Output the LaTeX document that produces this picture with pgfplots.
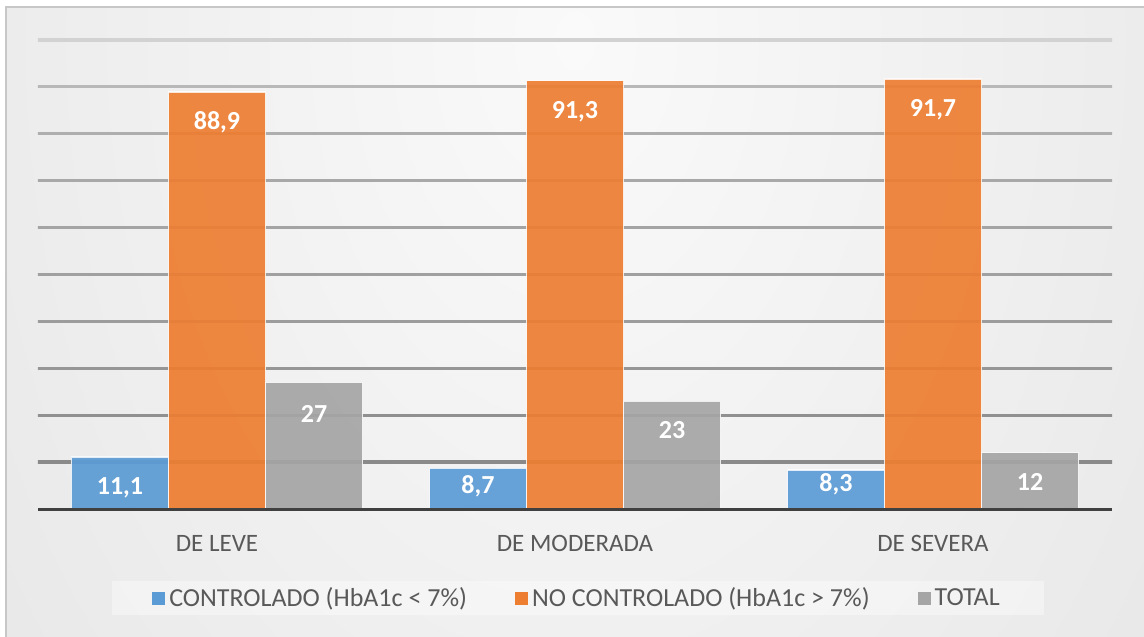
\documentclass[border=0pt]{standalone}
\usepackage{pgfplots}
\pgfplotsset{compat=1.18}
\usepackage{pgfplotstable}
\usepackage{fontspec}
\setmainfont{Carlito}
\definecolor{cblue}{HTML}{5B9BD5}
\definecolor{corange}{HTML}{ED7D31}
\definecolor{cgray}{HTML}{A5A5A5}
\definecolor{ctext}{HTML}{595959}
\definecolor{bgin}{HTML}{FAFAFA}
\definecolor{bgout}{HTML}{C4C4C4}
% gridline colours: middle (gm) and edge (ge) per level
\definecolor{gm10}{HTML}{7E7E7E}\definecolor{ge10}{HTML}{8A8A8A}
\definecolor{gm20}{HTML}{8C8C8C}\definecolor{ge20}{HTML}{909090}
\definecolor{gm30}{HTML}{9A9A9A}\definecolor{ge30}{HTML}{969696}
\definecolor{gm40}{HTML}{A6A6A6}\definecolor{ge40}{HTML}{9C9C9C}
\definecolor{gm50}{HTML}{B0B0B0}\definecolor{ge50}{HTML}{A0A0A0}
\definecolor{gm60}{HTML}{BCBCBC}\definecolor{ge60}{HTML}{A4A4A4}
\definecolor{gm70}{HTML}{C6C6C6}\definecolor{ge70}{HTML}{A8A8A8}
\definecolor{gm80}{HTML}{D0D0D0}\definecolor{ge80}{HTML}{AEAEAE}
\definecolor{gm90}{HTML}{D8D8D8}\definecolor{ge90}{HTML}{B8B8B8}
\definecolor{gm100}{HTML}{E2E2E2}\definecolor{ge100}{HTML}{D2D2D2}
\pgfdeclareradialshading{bgshade}{\pgfpointorigin}{color(0bp)=(bgin); color(50bp)=(bgout); color(71bp)=(bgout)}

\pgfplotstableread{
x c lc oc n ln on t lt ot
0 11.1 11,1 -18.6 88.9 88,9 -18.8 27 27 -19.85
1 8.7 8,7 -12.85 91.3 91,3 -18.8 23 23 -18.8
2 8.3 8,3 -10.6 91.7 91,7 -18.8 12 12 -19.1
}\datatable

\begin{document}
\begin{tikzpicture}
\useasboundingbox (-19bp,-64bp) rectangle (553bp,254.5bp);
\fill[white] (-19bp,-64bp) rectangle (553bp,254.5bp);
\begin{scope}
\clip (-16bp,-64bp) rectangle (553bp,251bp);
\shade[shading=bgshade] (-281.5bp,-559.5bp) rectangle (818.5bp,1028.5bp);
\end{scope}
\draw[black!22, line width=0.6bp] (-16bp,-66bp) -- (-16bp,251bp) -- (555bp,251bp);
\begin{axis}[
  at={(0bp,0bp)}, anchor=south west,
  scale only axis, width=537bp, height=234.5bp,
  xmin=-0.5, xmax=2.5, ymin=0, ymax=100,
  ybar=0pt, bar width=48.5bp,
  axis line style={draw=none},
  axis on top,
  xtick={0,1,2}, xticklabels={DE LEVE, DE MODERADA, DE SEVERA},
  ytick={0}, yticklabels={},
  major tick length=0pt,
  ymajorgrids, grid style={draw=black!75, line width=1.5bp},
  xticklabel style={font=\fontsize{12.5bp}{15bp}\selectfont, text=ctext, anchor=base, yshift=-21bp},
  nodes near coords, point meta=explicit symbolic,
  every node near coord/.append style={font=\bfseries\fontsize{13bp}{15bp}\selectfont, text=white, text opacity=1, anchor=base, yshift=\myoff bp},
  legend columns=3,
  legend style={at={(0.5,-0.1908)}, anchor=center, xshift=1.5bp, draw=none, fill=white, fill opacity=0.38, text opacity=1,
    font=\fontsize{13bp}{15bp}\selectfont, text=ctext,
    inner xsep=20bp, inner ysep=1bp,
    /tikz/every even column/.append style={column sep=22bp}},
  legend image code/.code={\fill[#1,draw=none,fill opacity=1] (0bp,-3.25bp) rectangle (6.5bp,3.25bp);},
  clip=false,
]
\pgfplotsinvokeforeach{10,20,...,100}{
  \shade[left color=ge#1, middle color=gm#1, right color=ge#1]
    ([yshift=-0.55bp]axis cs:-0.5,#1) rectangle ([yshift=0.55bp]axis cs:2.5,#1);
}
\addplot[fill=cblue, draw=white, draw opacity=0.8, fill opacity=0.92, line width=0.6bp,
  visualization depends on={\thisrow{oc}\as\myoff}] table[x=x,y=c,meta=lc]{\datatable};
\addplot[fill=corange, draw=white, draw opacity=0.8, fill opacity=0.92, line width=0.6bp,
  visualization depends on={\thisrow{on}\as\myoff}] table[x=x,y=n,meta=ln]{\datatable};
\addplot[fill=cgray, draw=white, draw opacity=0.8, fill opacity=0.92, line width=0.6bp,
  visualization depends on={\thisrow{ot}\as\myoff}] table[x=x,y=t,meta=lt]{\datatable};
\legend{CONTROLADO (HbA1c < 7\%), NO CONTROLADO (HbA1c > 7\%), TOTAL}
\end{axis}
\end{tikzpicture}
\end{document}
